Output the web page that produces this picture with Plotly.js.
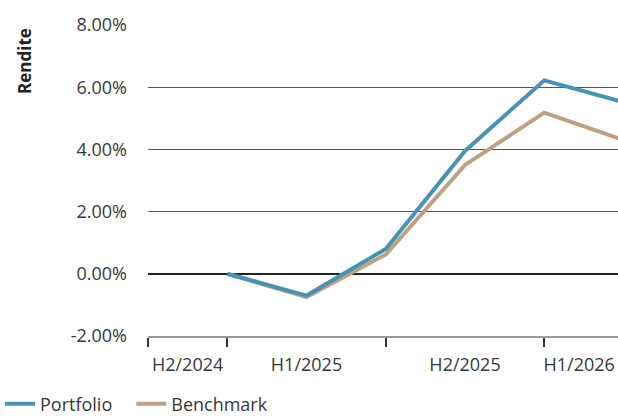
<!DOCTYPE html>
<html><head><meta charset="utf-8">
<script src="https://cdn.plot.ly/plotly-3.0.1.min.js"></script>
<style>html,body{margin:0;padding:0;background:#fff}</style>
</head><body><div id="chart" style="width:618px;height:417px"></div>
<script>
const xPos = [1, 2, 3, 4, 5, 6];
const portfolio = [0.0, -0.70, 0.80, 3.95, 6.22, 5.52];
const benchmark = [0.0, -0.75, 0.62, 3.50, 5.18, 4.30];
const seriesNames = ['Portfolio', 'Benchmark'];
const periodLabels = ['H2/2024', 'H1/2025', 'H2/2025', 'H1/2026'];
const periodLabelPos = [0.5, 2, 4, 5.44];
const boundaryTicks = [0, 1, 3, 5];
const yTicks = [-2, 0, 2, 4, 6, 8];

const font = {family: 'Open Sans, Noto Sans, sans-serif', size: 18, color: '#383838'};

const traces = [
  {x: xPos, y: benchmark, name: seriesNames[1], mode: 'lines', line: {color: '#bfa082', width: 4}, legendrank: 2},
  {x: xPos, y: portfolio, name: seriesNames[0] + '\u00a0\u00a0\u00a0', mode: 'lines', line: {color: '#4893b5', width: 4}, legendrank: 1}
];

const layout = {
  width: 618, height: 417,
  margin: {l: 148, r: 0, t: 25, b: 81},
  font: font,
  plot_bgcolor: '#fff', paper_bgcolor: '#fff',
  showlegend: true,
  legend: {orientation: 'h', xref: 'container', yref: 'container', x: 0, y: (417 - 404) / 417, yanchor: 'middle', xanchor: 'left',
    font: font, traceorder: 'normal', itemwidth: 30},
  xaxis: {range: [0, 5.93], tickmode: 'array', tickvals: periodLabelPos, ticktext: periodLabels, automargin: false,
    ticklabeloverflow: 'allow',
    ticks: '', showgrid: false, zeroline: false, showline: true, linecolor: '#999', linewidth: 2,
    ticklabelstandoff: 11, tickfont: font,
    minor: {tickmode: 'array', tickvals: boundaryTicks, ticks: 'outside', ticklen: 9, tickwidth: 2, tickcolor: '#333', showgrid: false}},
  yaxis: {range: [-2, 8], tickmode: 'array', tickvals: yTicks, ticktext: yTicks.map(v => v.toFixed(2) + '%'), automargin: false,
    showgrid: true, gridcolor: '#555', gridwidth: 1, zeroline: true, zerolinecolor: '#222', zerolinewidth: 2,
    ticks: '', ticklabelstandoff: 20, tickfont: font, showline: false},
  annotations: [{text: '<b>Rendite</b>', textangle: -90, xref: 'paper', yref: 'paper', x: (25 - 148) / 470, y: (336 - 61) / 311,
    showarrow: false, font: {family: 'Open Sans, Noto Sans, sans-serif', size: 17, color: '#222'}, xanchor: 'center', yanchor: 'middle'}]
};

Plotly.newPlot('chart', traces, layout, {displayModeBar: false, staticPlot: true});
</script></body></html>
